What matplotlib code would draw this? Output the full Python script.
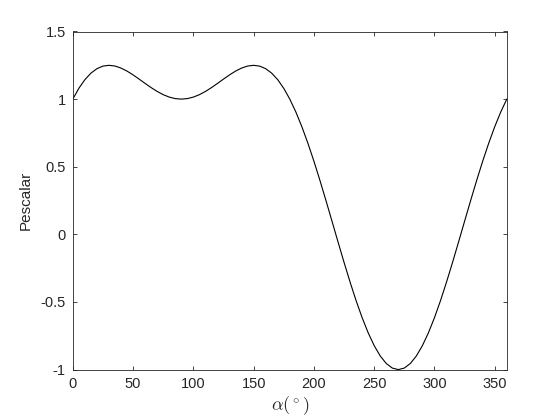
import matplotlib.pyplot as plt

plt.rcParams['font.family'] = ['Liberation Sans', 'DejaVu Sans']
plt.rcParams['mathtext.fontset'] = 'cm'

# angle samples (degrees) and values
alpha = list(range(0, 365, 5))
pescalar = [
    1.0000, 1.0796, 1.1435, 1.1918, 1.2250, 1.2440, 1.2500, 1.2446, 1.2296, 1.2071,
    1.1792, 1.1481, 1.1160, 1.0849, 1.0567, 1.0329, 1.0150, 1.0038, 1.0000,
    1.0038, 1.0150, 1.0329, 1.0567, 1.0849, 1.1160, 1.1481, 1.1792, 1.2071,
    1.2296, 1.2446, 1.2500, 1.2440, 1.2250, 1.1918, 1.1435, 1.0796, 1.0000,
    0.9052, 0.7962, 0.6742, 0.5410, 0.3988, 0.2500, 0.0974, -0.0560, -0.2071,
    -0.3529, -0.4902, -0.6160, -0.7277, -0.8227, -0.8989, -0.9547, -0.9886, -1.0000,
    -0.9886, -0.9547, -0.8989, -0.8227, -0.7277, -0.6160, -0.4902, -0.3529, -0.2071,
    -0.0560, 0.0974, 0.2500, 0.3988, 0.5410, 0.6742, 0.7962, 0.9052, 1.0000,
]

xticks = [0, 50, 100, 150, 200, 250, 300, 350]
yticks = [-1, -0.5, 0, 0.5, 1, 1.5]
ytick_labels = ['-1', '-0.5', '0', '0.5', '1', '1.5']

fig = plt.figure(figsize=(5.6, 4.2), dpi=100)
ax = fig.add_axes([0.13, 0.12, 0.775, 0.805])
ax.plot(alpha, pescalar, color='black', linewidth=0.8)

ax.set_xlim(0, 360)
ax.set_ylim(-1, 1.5)
ax.set_xticks(xticks)
ax.set_xticklabels([str(t) for t in xticks])
ax.set_yticks(yticks)
ax.set_yticklabels(ytick_labels)
ax.tick_params(direction='in', length=3, width=0.6, labelsize=10.5, pad=5,
               top=True, right=True, colors='#262626')
for s in ax.spines.values():
    s.set_linewidth(0.6)
    s.set_color('#262626')

ax.set_ylabel('Pescalar', fontsize=11, color='#262626', labelpad=6)
ax.set_xlabel(r'$\alpha(^\circ)$', fontsize=13, color='#262626', labelpad=3)

fig.savefig('out.png', dpi=100)
